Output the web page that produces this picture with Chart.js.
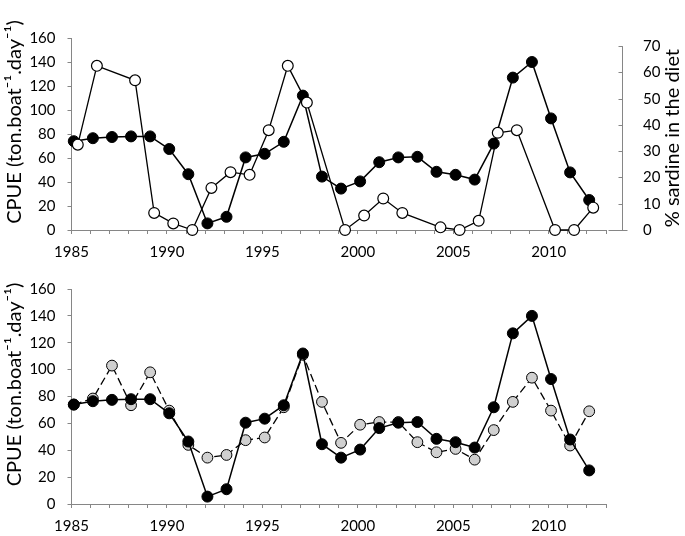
<!DOCTYPE html>
<html><head><meta charset="utf-8">
<script src="https://cdn.jsdelivr.net/npm/chart.js@4/dist/chart.umd.min.js"></script>
<style>
html,body{margin:0;padding:0;background:#fff;}
#wrap{position:relative;width:685px;height:536px;}
.c{position:absolute;left:0;width:685px;height:268px;}
#top{top:0}
#bot{top:268px}
</style></head><body>
<div id="wrap"><div class="c" id="top"><canvas id="c1"></canvas></div><div class="c" id="bot"><canvas id="c2"></canvas></div></div>
<script>
// ---- data ----
const years = [1985,1986,1987,1988,1989,1990,1991,1992,1993,1994,1995,1996,1997,1998,1999,2000,2001,2002,2003,2004,2005,2006,2007,2008,2009,2010,2011,2012];
const cpue = [74,76.5,77.5,78,78,67.5,46.5,5.5,11,60.5,63.5,73.5,112,44.5,34.5,40.5,56.5,60.5,61,48.5,46,42,72,127,140,93,48,25];
const cpueGrey = [74,78.5,103,73.5,98,69.5,44,34.5,36.5,47.5,49.5,72,111,76,45.5,59,61,61,46,38.5,41,33,55,76,94,69.5,43.5,69];
const sardinePct = [32.5,62.5,null,57,6.5,2.5,0,16,22,21,38,62.5,48.5,null,0,5.5,12,6.5,null,1,0,3.5,37,38,null,0,0,8.5];
const xTickLabels = [1985,1990,1995,2000,2005,2010];
const leftTicks = [0,20,40,60,80,100,120,140,160];
const rightTicks = [0,10,20,30,40,50,60,70];
const CPUE_SHIFT = 0.12, DIET_SHIFT = 0.33;
const leftTitle = 'CPUE (ton.boat\u207B\u00B9.day\u207B\u00B9)';
const rightTitle = '% sardine in the diet';

const pts = (arr, shift) => arr.map((v,i) => ({x: years[i] + shift, y: v}));

const FONT = 'Lato, "Liberation Sans", sans-serif';
Chart.defaults.font.family = FONT;
Chart.defaults.color = '#000';
const AX = '#868686';

function xScale(h){
  return {
    type:'linear', position:'bottom', min:1985, max:2013,
    border:{display:true,color:AX,width:1},
    grid:{display:true,drawOnChartArea:false,color:AX,tickLength:4,tickWidth:1},
    ticks:{stepSize:1,autoSkip:false,maxRotation:0,padding:9,font:{size:15},
      callback:v => xTickLabels.includes(v) ? String(v) : ''},
    afterFit:s => { s.height = h; }
  };
}
function yScale(){
  return {
    type:'linear', position:'left', min:0, max:160,
    border:{display:true,color:AX,width:1},
    grid:{display:true,drawOnChartArea:false,color:AX,tickLength:4},
    ticks:{stepSize:10,padding:12,font:{size:15},
      callback:v => leftTicks.includes(v) ? String(v) : ''},
    title:{display:false,text:leftTitle},
    afterFit:s => { s.width = 71.5; }
  };
}

// draws the axis titles (reading bottom-to-top) and the detached right axis line
const axisDecor = {
  id:'axisDecor',
  afterDraw(chart){
    const ctx = chart.ctx;
    const ca = chart.chartArea;
    ctx.save();
    // left title
    const sy = chart.scales.y;
    ctx.fillStyle = '#000';
    ctx.font = '20px ' + FONT;
    ctx.textAlign = 'center'; ctx.textBaseline = 'middle';
    ctx.save();
    ctx.translate(15, (ca.top + ca.bottom)/2 - 12);
    ctx.rotate(-Math.PI/2);
    ctx.fillText(sy.options.title.text, 0, 0);
    ctx.restore();
    const s = chart.scales.y2;
    if (s) {
      const x = Math.round(ca.right + 16) + 0.5;
      const y0 = s.getPixelForValue(0), yT = s.getPixelForValue(rightTicks[rightTicks.length-1]);
      ctx.strokeStyle = AX; ctx.lineWidth = 1;
      ctx.beginPath(); ctx.moveTo(x, y0); ctx.lineTo(x, yT);
      rightTicks.forEach(v => { const yy = Math.round(s.getPixelForValue(v)) + 0.5; ctx.moveTo(x-4, yy); ctx.lineTo(x, yy); });
      ctx.moveTo(x-14, Math.round(y0)+0.5); ctx.lineTo(x+5, Math.round(y0)+0.5);
      ctx.stroke();
      ctx.save();
      ctx.translate(673, (y0+yT)/2);
      ctx.rotate(-Math.PI/2);
      ctx.fillText(s.options.title.text, 0, 0);
      ctx.restore();
    }
    ctx.restore();
  }
};

const common = {
  responsive:true, maintainAspectRatio:false, animation:false,
  plugins:{legend:{display:false},tooltip:{enabled:false}},
};

new Chart(document.getElementById('c1'), {
  type:'line',
  data:{datasets:[
    {label:'CPUE', data:pts(cpue,CPUE_SHIFT), yAxisID:'y', order:1, clip:false,
     borderColor:'#000', borderWidth:1.5, pointRadius:5.5, pointBackgroundColor:'#000', pointBorderColor:'#000', pointBorderWidth:1},
    {label:'% sardine in the diet', data:pts(sardinePct,DIET_SHIFT), yAxisID:'y2', order:0, clip:false, spanGaps:true,
     borderColor:'#000', borderWidth:1.3, pointRadius:5.4, pointBackgroundColor:'#fff', pointBorderColor:'#000', pointBorderWidth:1.2}
  ]},
  options:Object.assign({}, common, {
    layout:{padding:{top:13,left:0,right:0,bottom:0}},
    scales:{
      x:xScale(37.3),
      y:yScale(),
      y2:{type:'linear',position:'right',min:0,max:73.1,
        border:{display:false}, grid:{display:false},
        ticks:{stepSize:10,includeBounds:false,padding:29,font:{size:15}},
        title:{display:false,text:rightTitle},
        afterFit:s => { s.width = 79; }}
    }
  }),
  plugins:[axisDecor]
});

new Chart(document.getElementById('c2'), {
  type:'line',
  data:{datasets:[
    {label:'CPUE', data:pts(cpue,CPUE_SHIFT), yAxisID:'y', order:0, clip:false,
     borderColor:'#000', borderWidth:1.5, pointRadius:5.5, pointBackgroundColor:'#000', pointBorderColor:'#000', pointBorderWidth:1},
    {label:'CPUE (grey)', data:pts(cpueGrey,CPUE_SHIFT), yAxisID:'y', order:1, clip:false,
     borderColor:'#000', borderWidth:1.3, borderDash:[8,4], pointRadius:5.4, pointBackgroundColor:'#d0d0d0', pointBorderColor:'#000', pointBorderWidth:1}
  ]},
  options:Object.assign({}, common, {
    layout:{padding:{top:17,left:0,right:79,bottom:0}},
    scales:{ x:xScale(32), y:yScale() }
  }),
  plugins:[axisDecor]
});
</script>
</body></html>
